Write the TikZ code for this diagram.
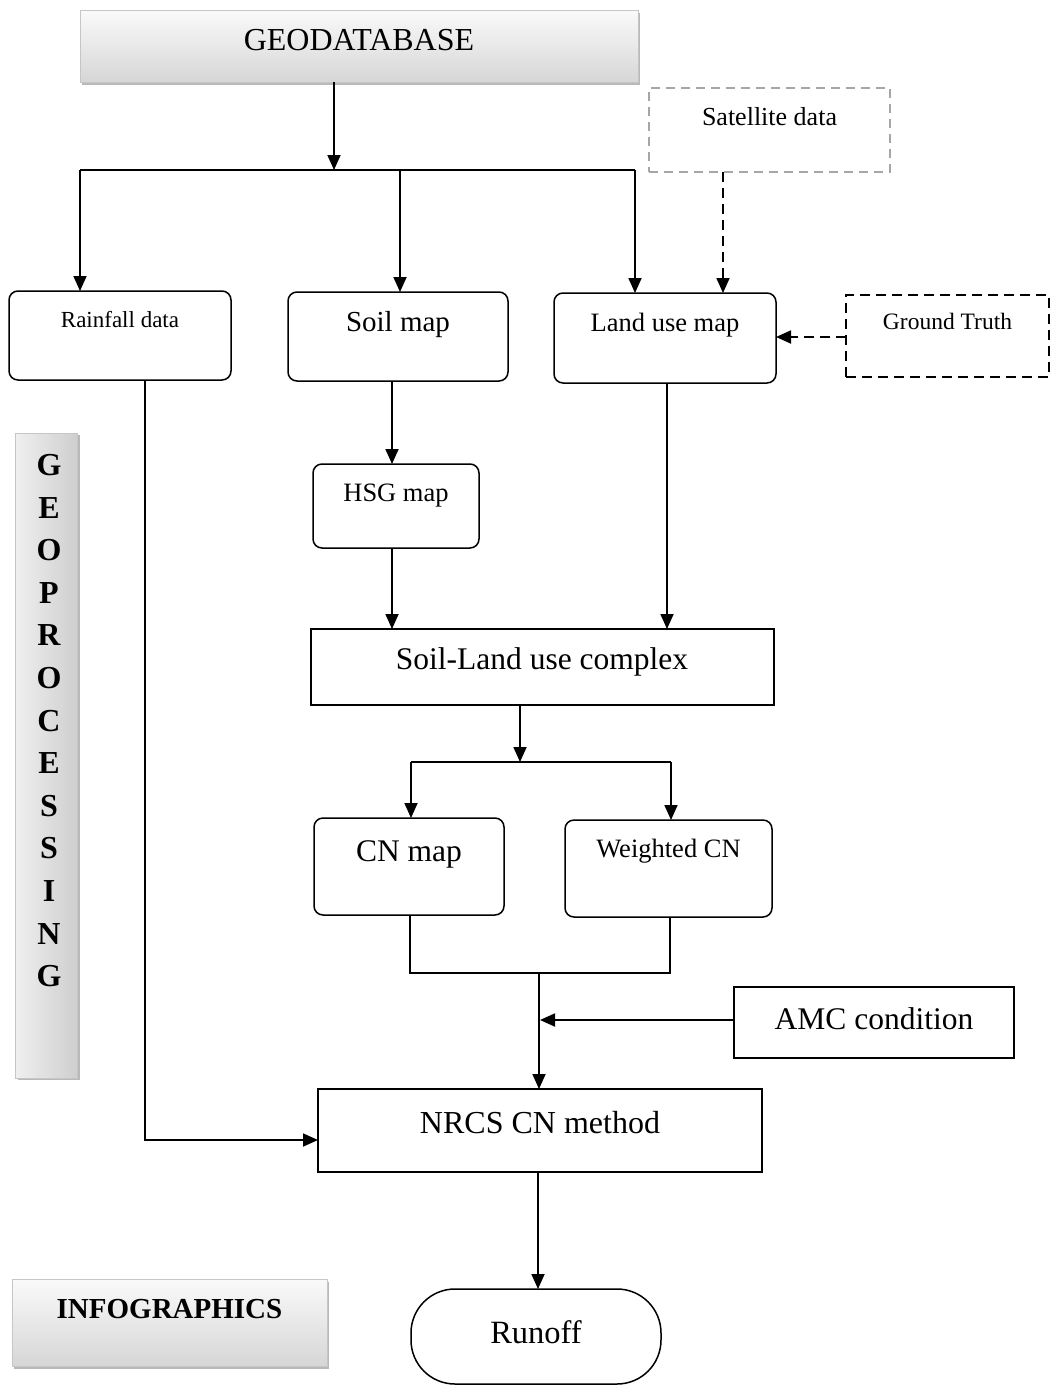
\documentclass[tikz,border=0pt]{standalone}
\usepackage{fontspec}
\setmainfont{Liberation Serif}
\usetikzlibrary{arrows.meta,shadows}
\newcommand\myfs[1]{\fontsize{#1}{#1}\selectfont}
\begin{document}
\begin{tikzpicture}[x=1pt,y=-1pt,
 every node/.style={inner sep=0pt, outer sep=0pt},
 ln/.style={line width=1.8pt},
 arr/.style={ln, -{Triangle[length=15pt,width=13pt]}},
 darr/.style={ln, dash pattern=on 10pt off 6pt, -{Triangle[length=15pt,width=13pt]}},
 rbox/.style={draw, line width=1.5pt, rounded corners=9pt},
 sbox/.style={draw, line width=1.5pt},
 gbox/.style={top color=gray!4, bottom color=gray!32, draw=gray!45, line width=0.6pt,
   drop shadow={shadow xshift=1.5pt, shadow yshift=-3pt, opacity=0.55}},
 vbox/.style={left color=gray!12, right color=gray!38, draw=gray!45, line width=0.6pt,
   drop shadow={shadow xshift=3pt, shadow yshift=-2pt, opacity=0.55}},
 satbox/.style={draw=gray!70, line width=1.1pt, dash pattern=on 9pt off 6pt},
 gtbox/.style={draw, line width=1.7pt, dash pattern=on 10pt off 6pt},
]
\useasboundingbox (0,0) rectangle (1051,1385);

% gradient boxes
\node[gbox, minimum width=558pt, minimum height=72pt] (geo) at (359,46) {};
\node[font=\myfs{32}] at (359,40) {GEODATABASE};
\node[vbox, minimum width=62pt, minimum height=645pt] (gp) at (46,755.5) {};
\foreach \ch [count=\i from 0] in {G,E,O,P,R,O,C,E,S,S,I,N,G}{
  \node[font=\myfs{32}\bfseries] at (49,{465+42.6*\i}) {\ch};
}
\node[gbox, minimum width=315pt, minimum height=87pt] (info) at (169.5,1322.5) {};
\node[font=\myfs{29}\bfseries] at (169.5,1309) {INFOGRAPHICS};

% top-level boxes
\node[satbox, minimum width=241pt, minimum height=84pt] (sat) at (769.5,130) {};
\node[font=\myfs{26}] at (769.5,117) {Satellite data};
\node[rbox, minimum width=222pt, minimum height=89pt] (rain) at (120,335.5) {};
\node[font=\myfs{23}] at (120,320) {Rainfall data};
\node[rbox, minimum width=220pt, minimum height=89pt] (soil) at (398,336.5) {};
\node[font=\myfs{29}] at (398,325) {Soil map};
\node[rbox, minimum width=222pt, minimum height=90pt] (land) at (665,338) {};
\node[font=\myfs{26.5}] at (665,325) {Land use map};
\node[gtbox, minimum width=203pt, minimum height=82pt] (gt) at (947.5,336) {};
\node[font=\myfs{23.5}] at (947.5,321) {Ground Truth};

\node[rbox, minimum width=166pt, minimum height=84pt] (hsg) at (396,506) {};
\node[font=\myfs{26.5}] at (396,496) {HSG map};
\node[sbox, minimum width=463pt, minimum height=76pt] (slc) at (542.5,667) {};
\node[font=\myfs{31.5}] at (542,662) {Soil-Land use complex};
\node[rbox, minimum width=190pt, minimum height=97pt] (cn) at (409,866.5) {};
\node[font=\myfs{31.5}] at (409,854) {CN map};
\node[rbox, minimum width=207pt, minimum height=97pt] (wcn) at (668.5,868.5) {};
\node[font=\myfs{26.5}] at (668.5,851) {Weighted CN};
\node[sbox, minimum width=280pt, minimum height=71pt] (amc) at (874,1022.5) {};
\node[font=\myfs{31.5}] at (874,1019) {AMC condition};
\node[sbox, minimum width=444pt, minimum height=83pt] (nrcs) at (540,1130.5) {};
\node[font=\myfs{32}] at (540,1123) {NRCS CN method};
\node[draw, line width=1.5pt, rounded corners=44pt, minimum width=250pt, minimum height=95pt] (run) at (536,1336.5) {};
\node[font=\myfs{32.5}] at (536,1332) {Runoff};

% connectors
\coordinate (split) at (334,170);
\coordinate (hl) at (80,170);
\coordinate (hr) at (635,170);
\coordinate (hm) at (400,170);
\draw[arr] (geo.south -| split) -- (split);
\draw[ln] (hl) -- (hr);
\draw[arr] (hl) -- (rain.north -| hl);
\draw[arr] (hm) -- (soil.north -| hm);
\draw[arr] (hr) -- (land.north -| hr);
\coordinate (satx) at (723,0);
\draw[darr] (sat.south -| satx) -- (land.north -| satx);
\coordinate (gty) at (0,337);
\draw[darr] (gt.west |- gty) -- (land.east |- gty);

\coordinate (sx) at (392,0);
\draw[arr] (soil.south -| sx) -- (hsg.north -| sx);
\draw[arr] (hsg.south -| sx) -- (slc.north -| sx);
\coordinate (lx) at (667,0);
\draw[arr] (land.south -| lx) -- (slc.north -| lx);

\coordinate (c2) at (520,762);
\coordinate (c2l) at (411,762);
\coordinate (c2r) at (671,762);
\draw[arr] (slc.south -| c2) -- (c2);
\draw[ln] (c2l) -- (c2r);
\draw[arr] (c2l) -- (cn.north -| c2l);
\draw[arr] (c2r) -- (wcn.north -| c2r);

\coordinate (jl) at (410,973);
\coordinate (jr) at (670,973);
\coordinate (jm) at (539,973);
\draw[ln] (cn.south -| jl) -- (jl) -- (jr) -- (wcn.south -| jr);
\draw[arr] (jm) -- (nrcs.north -| jm);
\coordinate (amcin) at (540,1020);
\draw[arr] (amc.west |- amcin) -- (amcin);

\coordinate (rx) at (145,1140);
\draw[arr] (rain.south -| rx) -- (rx) -- (nrcs.west |- rx);
\coordinate (nx) at (538,0);
\draw[arr] (nrcs.south -| nx) -- (run.north -| nx);
\end{tikzpicture}
\end{document}
